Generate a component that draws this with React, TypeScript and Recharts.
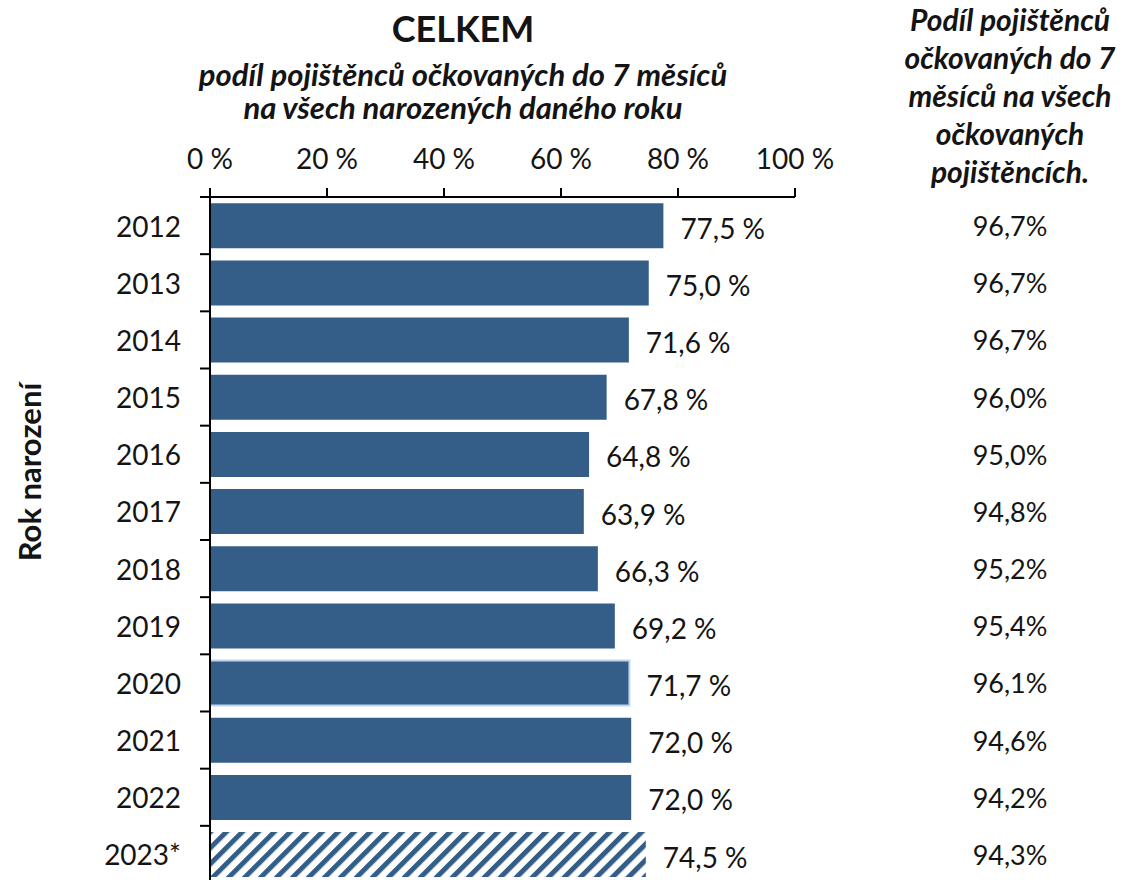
import React from 'react';
import { BarChart, Bar, XAxis, YAxis, Cell, LabelList } from 'recharts';

// ---------- data ----------
const years = ['2012', '2013', '2014', '2015', '2016', '2017', '2018', '2019', '2020', '2021', '2022', '2023*'];
const coverage = [77.5, 75.0, 71.6, 67.8, 64.8, 63.9, 66.3, 69.2, 71.7, 72.0, 72.0, 74.5];
const shareOfVaccinated = [96.7, 96.7, 96.7, 96.0, 95.0, 94.8, 95.2, 95.4, 96.1, 94.6, 94.2, 94.3];
const xTicks = [0, 20, 40, 60, 80, 100];
const preliminaryYear = '2023*';
const outlinedYear = '2020';

const titleText = 'CELKEM';
const subtitleLines = ['podíl pojištěnců očkovaných do 7 měsíců', 'na všech narozených daného roku'];
const rightHeaderLines = ['Podíl pojištěnců', 'očkovaných do 7', 'měsíců na všech', 'očkovaných', 'pojištěncích.'];
const yAxisTitle = 'Rok narození';

// ---------- layout / style ----------
const FONT = 'Lato, "Open Sans", sans-serif';
const BLUE = '#345D87';
const TEXT = '#141414';
const W = 1125;
const H = 888;
const MARGIN = { top: 147, right: 0, bottom: 5, left: 0 };
const X_AXIS_H = 50;
const LEFT_AXIS_W = 210;
const RIGHT_AXIS_W = 330;
const PLOT_TOP = MARGIN.top + X_AXIS_H;
const PLOT_BOTTOM = H - MARGIN.bottom;
const PLOT_LEFT = MARGIN.left + LEFT_AXIS_W;
const BAND = (PLOT_BOTTOM - PLOT_TOP) / years.length;
const RIGHT_COL_CENTER = 1010;
const TITLE_CENTER = 463;

const data = years.map((year, i) => ({ year, coverage: coverage[i], share: shareOfVaccinated[i] }));

const fmtComma = (v: number) => v.toFixed(1).replace('.', ',');

const LeftTick = (props: any) => {
  const { y, payload } = props;
  const boundary = y - BAND / 2;
  return (
    <g>
      <line x1={PLOT_LEFT - 10} x2={PLOT_LEFT} y1={boundary} y2={boundary} stroke="#000" strokeWidth={2} />
      <text
        x={PLOT_LEFT - 29}
        y={y}
        textAnchor="end"
        dominantBaseline="central"
        fontSize={28}
        fontFamily={FONT}
        fill={TEXT}
      >
        {payload.value}
      </text>
    </g>
  );
};

const RightTick = (props: any) => {
  const { y, index } = props;
  return (
    <text
      x={RIGHT_COL_CENTER}
      y={y}
      textAnchor="middle"
      dominantBaseline="central"
      fontSize={27}
      fontFamily={FONT}
      fill={TEXT}
    >
      {fmtComma(shareOfVaccinated[index])}%
    </text>
  );
};

const ValueLabel = (props: any) => {
  const { x, y, width, height, value } = props;
  return (
    <text
      x={x + width + 17}
      y={y + height / 2 + 2}
      dominantBaseline="central"
      fontSize={28}
      fontFamily={FONT}
      fill={TEXT}
    >
      {fmtComma(value)} %
    </text>
  );
};

export default function App() {
  return (
    <div
      style={{
        position: 'absolute',
        left: 0,
        top: 0,
        width: W,
        height: 880,
        overflow: 'hidden',
        background: '#fff',
        fontFamily: FONT,
        color: TEXT,
      }}
    >
      <BarChart
        width={W}
        height={H}
        data={data}
        layout="vertical"
        margin={MARGIN}
        barCategoryGap="11%"
      >
        <defs>
          <pattern id="hatch" patternUnits="userSpaceOnUse" width="11.3" height="11.3" patternTransform="rotate(45)">
            <rect width="11.3" height="11.3" fill="#fff" />
            <rect x="0" y="0" width="5" height="11.3" fill={BLUE} />
          </pattern>
        </defs>
        <XAxis
          type="number"
          orientation="top"
          domain={[0, 100]}
          ticks={xTicks}
          interval={0}
          tickFormatter={(v: number) => `${v} %`}
          height={X_AXIS_H}
          tickSize={9}
          tickMargin={19}
          axisLine={{ stroke: '#000', strokeWidth: 2 }}
          tickLine={{ stroke: '#000', strokeWidth: 2 }}
          tick={{ fontSize: 28, fill: TEXT, fontFamily: FONT }}
        />
        <YAxis
          yAxisId="left"
          type="category"
          dataKey="year"
          width={LEFT_AXIS_W}
          interval={0}
          axisLine={{ stroke: '#000', strokeWidth: 2 }}
          tickLine={false}
          tick={<LeftTick />}
        />
        <YAxis
          yAxisId="right"
          orientation="right"
          type="category"
          dataKey="year"
          width={RIGHT_AXIS_W}
          interval={0}
          axisLine={false}
          tickLine={false}
          tick={<RightTick />}
        />
        <Bar yAxisId="left" dataKey="coverage" isAnimationActive={false}>
          {data.map((d) => (
            <Cell
              key={d.year}
              fill={d.year === preliminaryYear ? 'url(#hatch)' : BLUE}
              stroke={d.year === outlinedYear ? '#BCD6EE' : 'none'}
              strokeWidth={d.year === outlinedYear ? 2 : 0}
            />
          ))}
          <LabelList dataKey="coverage" content={<ValueLabel />} />
        </Bar>
      </BarChart>

      {/* titles */}
      <div
        style={{
          position: 'absolute',
          left: TITLE_CENTER - 350,
          width: 700,
          top: 5,
          textAlign: 'center',
          fontSize: 36,
          fontWeight: 700,
          lineHeight: '46px',
        }}
      >
        {titleText}
      </div>
      <div
        style={{
          position: 'absolute',
          left: TITLE_CENTER - 350,
          width: 700,
          top: 58,
          textAlign: 'center',
          fontSize: 31,
          fontWeight: 700,
          fontStyle: 'italic',
          lineHeight: '33px',
          whiteSpace: 'pre-line',
        }}
      >
        {subtitleLines.join('\n')}
      </div>
      <div
        style={{
          position: 'absolute',
          left: RIGHT_COL_CENTER - 150,
          width: 300,
          top: 0,
          textAlign: 'center',
          fontSize: 30,
          fontWeight: 700,
          fontStyle: 'italic',
          lineHeight: '38px',
          whiteSpace: 'pre-line',
        }}
      >
        {rightHeaderLines.join('\n')}
      </div>
      <div
        style={{
          position: 'absolute',
          left: 29 - 200,
          top: 472 - 20,
          width: 400,
          height: 40,
          lineHeight: '40px',
          textAlign: 'center',
          fontSize: 31,
          fontWeight: 700,
          transform: 'rotate(-90deg)',
        }}
      >
        {yAxisTitle}
      </div>
    </div>
  );
}
